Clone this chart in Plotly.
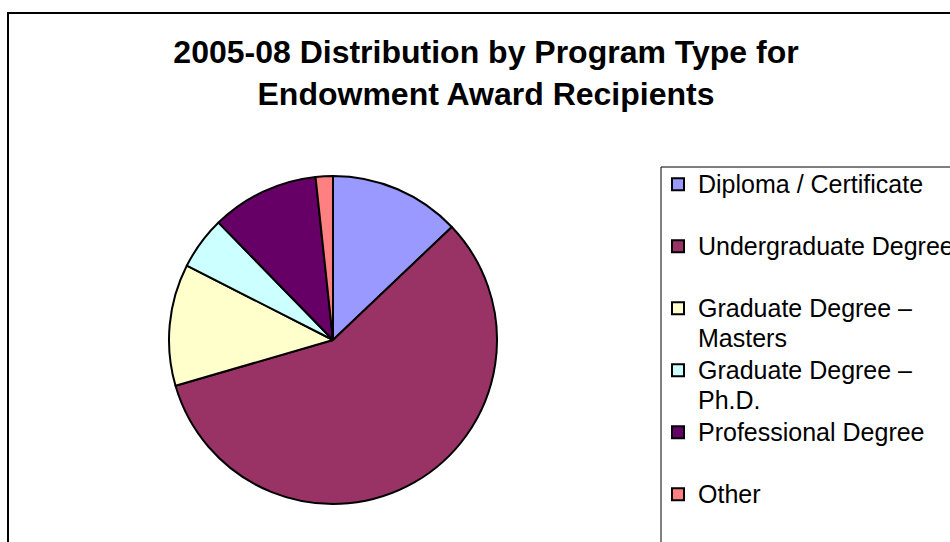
import plotly.graph_objects as go

# slice data, read clockwise from 12 o'clock
LABELS = [
    "Diploma / Certificate",
    "Undergraduate Degree",
    "Graduate Degree –<br>Masters",
    "Graduate Degree –<br>Ph.D.",
    "Professional Degree",
    "Other",
]
SHARES = [12.9, 57.6, 12.0, 5.2, 10.6, 1.7]
COLORS = ["#9999FF", "#993366", "#FFFFCC", "#CCFFFF", "#660066", "#FF8080"]

TITLE = "2005-08 Distribution by Program Type for<br>Endowment Award Recipients"

W, H = 950, 542
FONT = "Liberation Sans, Arial, sans-serif"
LEGEND_TEXT_PX = 25


def legend_name(label):
    # every entry takes two legend lines, like the evenly spaced Excel legend
    lines = label.split("<br>")
    if len(lines) == 1:
        lines.append(" ")
    return "<br>".join(f'<span style="font-size:{LEGEND_TEXT_PX}px">{ln}</span>' for ln in lines)


def px_x(x):
    return x / W


def px_y(y):
    return 1 - y / H


cx, cy, r = 333, 340, 164

fig = go.Figure()
fig.add_trace(
    go.Pie(
        labels=[legend_name(l) for l in LABELS],
        values=SHARES,
        sort=False,
        direction="clockwise",
        rotation=0,
        textinfo="none",
        hoverinfo="percent",
        marker=dict(colors=COLORS, line=dict(color="black", width=2)),
        domain=dict(x=[px_x(cx - r), px_x(cx + r)], y=[px_y(cy + r), px_y(cy - r)]),
    )
)

fig.update_layout(
    width=W,
    height=H,
    margin=dict(l=0, r=0, t=0, b=0, autoexpand=False),
    paper_bgcolor="white",
    plot_bgcolor="white",
    font=dict(family=FONT, color="black"),
    title=dict(
        text=TITLE,
        x=px_x(486),
        xanchor="center",
        y=px_y(63),
        yanchor="top",
        font=dict(family=FONT, size=32, color="black", weight="bold"),
    ),
    legend=dict(
        x=px_x(658),
        xanchor="left",
        y=px_y(163),
        yanchor="top",
        valign="top",
        font=dict(family=FONT, size=22.7, color="black"),
        bgcolor="rgba(0,0,0,0)",
        borderwidth=0,
    ),
    shapes=[
        # outer chart-area border, running off the right and bottom edges
        dict(type="rect", xref="paper", yref="paper",
             x0=px_x(8), x1=1.05, y0=-0.05, y1=px_y(13),
             line=dict(color="black", width=2)),
        # legend frame
        dict(type="rect", xref="paper", yref="paper",
             x0=px_x(661), x1=1.05, y0=-0.05, y1=px_y(167),
             line=dict(color="black", width=1)),
    ],
)

fig.write_html(
    "out.html",
    config={"displayModeBar": False},
    post_script="document.body.style.margin='0';document.body.style.overflow='hidden';",
)
